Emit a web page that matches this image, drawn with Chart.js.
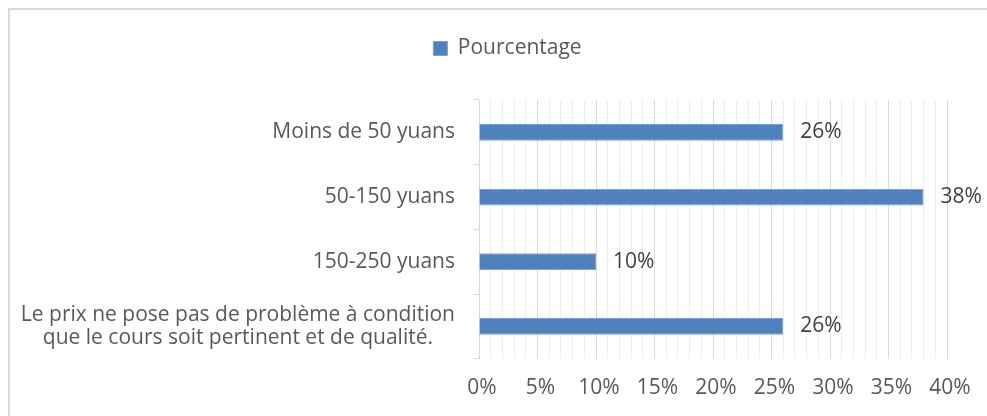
<!DOCTYPE html>
<html>
<head>
<meta charset="utf-8">
<script src="https://cdn.jsdelivr.net/npm/chart.js@4"></script>
<style>
  body { margin: 0; background: #fff; }
  #wrap { width: 987px; height: 416px; }
</style>
</head>
<body>
<div id="wrap"><canvas id="myChart"></canvas></div>
<script>
// categorieën (van boven naar beneden)
let labels = [
	'Moins de 50 yuans',
	'50-150 yuans',
	'150-250 yuans',
	['Le prix ne pose pas de problème à condition', 'que le cours soit pertinent et de qualité.']
];
// percentages per categorie
let values = [26, 38, 10, 26];
let seriesName = 'Pourcentage';
let barColor = '#4F81BD';

let fontFamily = "'Open Sans', sans-serif";
let fontSize = 21;

// kader om de hele grafiek
const frame = {
	id: 'frame',
	beforeDraw(chart) {
		const c = chart.ctx;
		c.save();
		c.strokeStyle = '#d9d9d9';
		c.lineWidth = 2;
		c.strokeRect(9, 9, chart.width + 20, chart.height + 20);
		c.restore();
	}
};

// extra ruimte onder de legenda, en iets naar rechts
const legendMargin = {
	id: 'legendMargin',
	beforeInit(chart) {
		const fit = chart.legend.fit;
		chart.legend.fit = function () {
			fit.bind(chart.legend)();
			this.height += 31;
		};
	},
	afterLayout(chart) {
		chart.legend.left += 34;
		chart.legend.right += 34;
	}
};

// labels van de y-as, regels gecentreerd
const yLabels = {
	id: 'yLabels',
	afterDraw(chart) {
		const scale = chart.scales.y;
		const c = chart.ctx;
		const lh = 23;
		c.save();
		c.font = fontSize + 'px ' + fontFamily;
		c.fillStyle = '#595959';
		c.textAlign = 'center';
		c.textBaseline = 'middle';
		const right = scale.right - 24;
		labels.forEach((lab, i) => {
			const lines = Array.isArray(lab) ? lab : [lab];
			const w = Math.max(...lines.map(l => c.measureText(l).width));
			const y = scale.getPixelForTick(i);
			lines.forEach((l, j) => {
				c.fillText(l, right - w / 2, y + (j - (lines.length - 1) / 2) * lh);
			});
		});
		c.restore();
	}
};

// waardes naast de balken
const valueLabels = {
	id: 'valueLabels',
	afterDatasetsDraw(chart) {
		const c = chart.ctx;
		const meta = chart.getDatasetMeta(0);
		c.save();
		c.font = fontSize + 'px ' + fontFamily;
		c.fillStyle = '#404040';
		c.textAlign = 'left';
		c.textBaseline = 'middle';
		meta.data.forEach((bar, i) => {
			c.fillText(values[i] + '%', bar.x + 17, bar.y);
		});
		c.restore();
	}
};

let ctx = document.getElementById('myChart').getContext('2d');

let chart = new Chart(ctx, {
	type: 'bar',
	data: {
		labels: labels,
		datasets: [{
			label: seriesName,
			data: values,
			backgroundColor: barColor,
			borderColor: '#7a9fd0',
			borderWidth: 1,
			categoryPercentage: 0.5,
			barPercentage: 0.52
		}]
	},
	options: {
		indexAxis: 'y',
		responsive: true,
		maintainAspectRatio: false,
		animation: false,
		layout: {
			padding: { left: 0, right: 40, top: 30, bottom: -2 }
		},
		plugins: {
			legend: {
				position: 'top',
				labels: {
					boxWidth: 14,
					boxHeight: 14,
					padding: 8,
					color: '#595959',
					font: { family: fontFamily, size: fontSize }
				}
			},
			tooltip: { enabled: false }
		},
		scales: {
			x: {
				min: 0,
				max: 40,
				border: { display: false },
				grid: {
					drawTicks: false,
					color: c => (c.tick.value % 5 === 0 ? '#d9d9d9' : '#eeeeee'),
					lineWidth: 1
				},
				ticks: {
					stepSize: 1,
					autoSkip: false,
					maxRotation: 0,
					padding: 17,
					labelOffset: 3,
					color: '#595959',
					font: { family: fontFamily, size: fontSize },
					callback: v => (v % 5 === 0 ? v + '%' : '')
				}
			},
			y: {
				afterFit(scale) { scale.width = 479; },
				border: { color: '#d9d9d9', width: 1 },
				grid: {
					drawOnChartArea: false,
					tickLength: 5,
					color: '#d9d9d9'
				},
				ticks: {
					color: 'rgba(0,0,0,0)',
					font: { family: fontFamily, size: fontSize }
				}
			}
		}
	},
	plugins: [frame, legendMargin, yLabels, valueLabels]
});
</script>
</body>
</html>
